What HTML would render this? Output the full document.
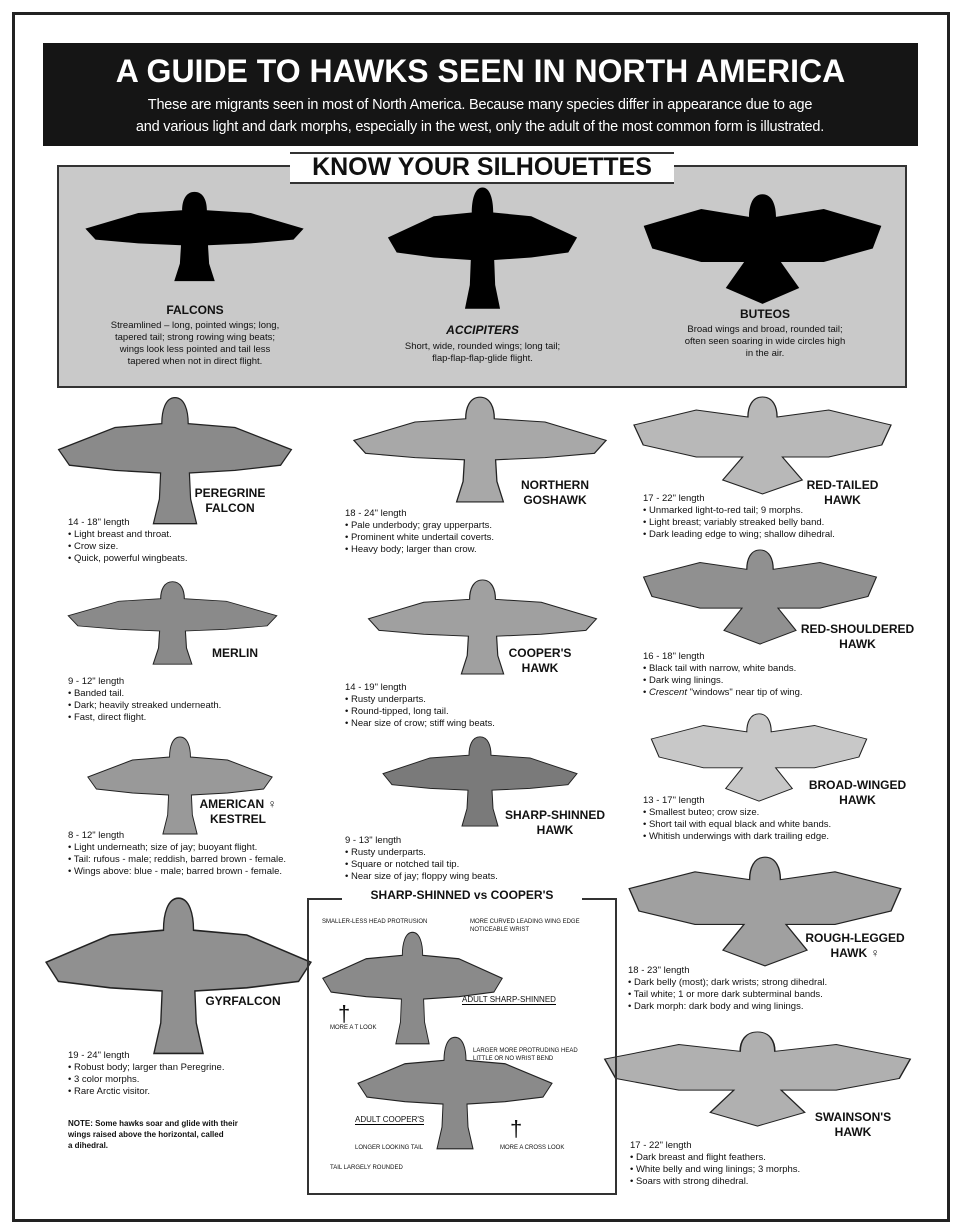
<!DOCTYPE html>
<html><head><meta charset="utf-8">
<style>
*{margin:0;padding:0;box-sizing:border-box}
body{width:960px;height:1230px;background:#fff;position:relative;font-family:"Liberation Sans",sans-serif;color:#111;overflow:hidden}
.a{position:absolute}
.t{font-size:9.5px;line-height:12px}
.lb{font-weight:bold;font-size:12px;line-height:15px;text-align:center}
svg.b{position:absolute}
</style></head><body>
<div class="a" style="left:12px;top:12px;width:938px;height:1210px;border:3px solid #222"></div>
<div class="a" style="left:43px;top:43px;width:875px;height:103px;background:#151515"></div>
<div class="a" style="left:43px;top:53px;width:875px;text-align:center;color:#fff;font-weight:bold;font-size:32px">A GUIDE TO HAWKS SEEN IN NORTH AMERICA</div>
<div class="a" style="left:45px;top:94px;width:870px;text-align:center;color:#fff;font-size:14.5px;line-height:22px;letter-spacing:-0.2px">These are migrants seen in most of North America. Because many species differ in appearance due to age<br>and various light and dark morphs, especially in the west, only the adult of the most common form is illustrated.</div>

<div class="a" style="left:57px;top:165px;width:850px;height:223px;background:#c9c9c9;border:2px solid #333"></div>
<div class="a" style="left:290px;top:152px;width:384px;height:32px;background:#fff;border-top:2px solid #333;border-bottom:2px solid #333"></div>
<div class="a" style="left:290px;top:153px;width:384px;text-align:center;font-weight:bold;font-size:25px">KNOW YOUR SILHOUETTES</div>

<svg width="0" height="0" style="position:absolute"><defs>
<symbol id="bird" viewBox="0 0 200 100" preserveAspectRatio="none">
<path d="M100 2 C108 2 111 12 111 22 L150 25 L197 42 L188 54 L150 58 L112 60 L113 80 L118 99 L82 99 L87 80 L88 60 L50 58 L12 54 L3 42 L50 25 L89 22 C89 12 92 2 100 2Z"/>
</symbol>
<symbol id="buteo" viewBox="0 0 200 100" preserveAspectRatio="none">
<path d="M100 2 C108 2 111 12 111 22 L150 15 L197 30 L190 50 L150 62 L115 62 L130 85 L100 99 L70 85 L85 62 L50 62 L10 50 L3 30 L50 15 L89 22 C89 12 92 2 100 2Z"/>
</symbol>
</defs></svg>

<svg class="b" style="left:82px;top:190px" width="225" height="92" fill="#000"><use href="#bird" width="225" height="92"/></svg>
<svg class="b" style="left:385px;top:185px" width="195" height="125" fill="#000"><use href="#bird" width="195" height="125"/></svg>
<svg class="b" style="left:640px;top:192px" width="245" height="113" fill="#000"><use href="#buteo" width="245" height="113"/></svg>
<div class="a lb" style="left:70px;top:303px;width:250px">FALCONS</div>
<div class="a t" style="left:65px;top:320px;width:260px;text-align:center">Streamlined – long, pointed wings; long,<br>tapered tail; strong rowing wing beats;<br>wings look less pointed and tail less<br>tapered when not in direct flight.</div>
<div class="a lb" style="left:360px;top:323px;width:245px;font-style:italic">ACCIPITERS</div>
<div class="a t" style="left:355px;top:341px;width:255px;text-align:center">Short, wide, rounded wings; long tail;<br>flap-flap-flap-glide flight.</div>
<div class="a lb" style="left:640px;top:307px;width:250px">BUTEOS</div>
<div class="a t" style="left:635px;top:324px;width:260px;text-align:center">Broad wings and broad, rounded tail;<br>often seen soaring in wide circles high<br>in the air.</div>

<svg class="b" style="left:55px;top:395px" width="240" height="130" fill="#8a8a8a" stroke="#222"><use href="#bird" width="240" height="130"/></svg>
<svg class="b" style="left:350px;top:395px" width="260" height="108" fill="#a8a8a8" stroke="#222"><use href="#bird" width="260" height="108"/></svg>
<svg class="b" style="left:630px;top:395px" width="265" height="100" fill="#b8b8b8" stroke="#222"><use href="#buteo" width="265" height="100"/></svg>
<svg class="b" style="left:65px;top:580px" width="215" height="85" fill="#8a8a8a" stroke="#222"><use href="#bird" width="215" height="85"/></svg>
<svg class="b" style="left:365px;top:578px" width="235" height="97" fill="#a0a0a0" stroke="#222"><use href="#bird" width="235" height="97"/></svg>
<svg class="b" style="left:640px;top:548px" width="240" height="97" fill="#909090" stroke="#222"><use href="#buteo" width="240" height="97"/></svg>
<svg class="b" style="left:85px;top:735px" width="190" height="100" fill="#999" stroke="#222"><use href="#bird" width="190" height="100"/></svg>
<svg class="b" style="left:380px;top:735px" width="200" height="92" fill="#7a7a7a" stroke="#222"><use href="#bird" width="200" height="92"/></svg>
<svg class="b" style="left:648px;top:712px" width="222" height="90" fill="#c8c8c8" stroke="#222"><use href="#buteo" width="222" height="90"/></svg>
<svg class="b" style="left:42px;top:895px" width="273" height="160" fill="#909090" stroke="#222"><use href="#bird" width="273" height="160"/></svg>
<svg class="b" style="left:625px;top:855px" width="280" height="112" fill="#a0a0a0" stroke="#222"><use href="#buteo" width="280" height="112"/></svg>
<svg class="b" style="left:600px;top:1030px" width="315" height="97" fill="#b0b0b0" stroke="#222"><use href="#buteo" width="315" height="97"/></svg>

<div class="a lb" style="left:185px;top:486px;width:90px">PEREGRINE<br>FALCON</div>
<div class="a t" style="left:68px;top:517px">14 - 18" length<br>• Light breast and throat.<br>• Crow size.<br>• Quick, powerful wingbeats.</div>
<div class="a lb" style="left:205px;top:646px;width:60px">MERLIN</div>
<div class="a t" style="left:68px;top:676px">9 - 12" length<br>• Banded tail.<br>• Dark; heavily streaked underneath.<br>• Fast, direct flight.</div>
<div class="a lb" style="left:188px;top:797px;width:100px">AMERICAN ♀<br>KESTREL</div>
<div class="a t" style="left:68px;top:830px">8 - 12" length<br>• Light underneath; size of jay; buoyant flight.<br>• Tail: rufous - male; reddish, barred brown - female.<br>• Wings above: blue - male; barred brown - female.</div>
<div class="a lb" style="left:198px;top:994px;width:90px">GYRFALCON</div>
<div class="a t" style="left:68px;top:1050px">19 - 24" length<br>• Robust body; larger than Peregrine.<br>• 3 color morphs.<br>• Rare Arctic visitor.</div>
<div class="a t" style="left:68px;top:1118px;font-size:8px;line-height:11px;font-weight:bold">NOTE: Some hawks soar and glide with their<br>wings raised above the horizontal, called<br>a dihedral.</div>

<div class="a lb" style="left:510px;top:478px;width:90px">NORTHERN<br>GOSHAWK</div>
<div class="a t" style="left:345px;top:508px">18 - 24" length<br>• Pale underbody; gray upperparts.<br>• Prominent white undertail coverts.<br>• Heavy body; larger than crow.</div>
<div class="a lb" style="left:505px;top:646px;width:70px">COOPER'S<br>HAWK</div>
<div class="a t" style="left:345px;top:682px">14 - 19" length<br>• Rusty underparts.<br>• Round-tipped, long tail.<br>• Near size of crow; stiff wing beats.</div>
<div class="a lb" style="left:490px;top:808px;width:130px">SHARP-SHINNED<br>HAWK</div>
<div class="a t" style="left:345px;top:835px">9 - 13" length<br>• Rusty underparts.<br>• Square or notched tail tip.<br>• Near size of jay; floppy wing beats.</div>

<div class="a" style="left:307px;top:898px;width:310px;height:297px;border:2px solid #333"></div>
<div class="a" style="left:342px;top:888px;width:240px;background:#fff;text-align:center;font-weight:bold;font-size:12px">SHARP-SHINNED vs COOPER'S</div>
<svg class="b" style="left:320px;top:930px" width="185" height="115" fill="#8a8a8a" stroke="#222"><use href="#bird" width="185" height="115"/></svg>
<svg class="b" style="left:355px;top:1035px" width="200" height="115" fill="#8a8a8a" stroke="#222"><use href="#bird" width="200" height="115"/></svg>
<div class="a" style="left:322px;top:918px;font-size:6px;line-height:8px">SMALLER-LESS HEAD PROTRUSION</div>
<div class="a" style="left:470px;top:918px;font-size:6px;line-height:8px">MORE CURVED LEADING WING EDGE<br>NOTICEABLE WRIST</div>
<div class="a" style="left:462px;top:995px;font-size:8px;border-bottom:1px solid #000">ADULT SHARP-SHINNED</div>
<div class="a" style="left:338px;top:1003px;font-size:22px;line-height:22px">†</div>
<div class="a" style="left:330px;top:1025px;font-size:6px">MORE A T LOOK</div>
<div class="a" style="left:473px;top:1047px;font-size:6px;line-height:8px">LARGER MORE PROTRUDING HEAD<br>LITTLE OR NO WRIST BEND</div>
<div class="a" style="left:355px;top:1115px;font-size:8px;border-bottom:1px solid #000">ADULT COOPER'S</div>
<div class="a" style="left:510px;top:1118px;font-size:22px;line-height:22px">†</div>
<div class="a" style="left:500px;top:1145px;font-size:6px">MORE A CROSS LOOK</div>
<div class="a" style="left:355px;top:1145px;font-size:6px">LONGER LOOKING TAIL</div>
<div class="a" style="left:330px;top:1165px;font-size:6px">TAIL LARGELY ROUNDED</div>

<div class="a lb" style="left:800px;top:478px;width:85px">RED-TAILED<br>HAWK</div>
<div class="a t" style="left:643px;top:493px">17 - 22" length<br>• Unmarked light-to-red tail; 9 morphs.<br>• Light breast; variably streaked belly band.<br>• Dark leading edge to wing; shallow dihedral.</div>
<div class="a lb" style="left:790px;top:622px;width:135px">RED-SHOULDERED<br>HAWK</div>
<div class="a t" style="left:643px;top:651px">16 - 18" length<br>• Black tail with narrow, white bands.<br>• Dark wing linings.<br>• <i>Crescent</i> "windows" near tip of wing.</div>
<div class="a lb" style="left:800px;top:778px;width:115px">BROAD-WINGED<br>HAWK</div>
<div class="a t" style="left:643px;top:795px">13 - 17" length<br>• Smallest buteo; crow size.<br>• Short tail with equal black and white bands.<br>• Whitish underwings with dark trailing edge.</div>
<div class="a lb" style="left:795px;top:931px;width:120px">ROUGH-LEGGED<br>HAWK ♀</div>
<div class="a t" style="left:628px;top:965px">18 - 23" length<br>• Dark belly (most); dark wrists; strong dihedral.<br>• Tail white; 1 or more dark subterminal bands.<br>• Dark morph: dark body and wing linings.</div>
<div class="a lb" style="left:808px;top:1110px;width:90px">SWAINSON'S<br>HAWK</div>
<div class="a t" style="left:630px;top:1140px">17 - 22" length<br>• Dark breast and flight feathers.<br>• White belly and wing linings; 3 morphs.<br>• Soars with strong dihedral.</div>
</body></html>
